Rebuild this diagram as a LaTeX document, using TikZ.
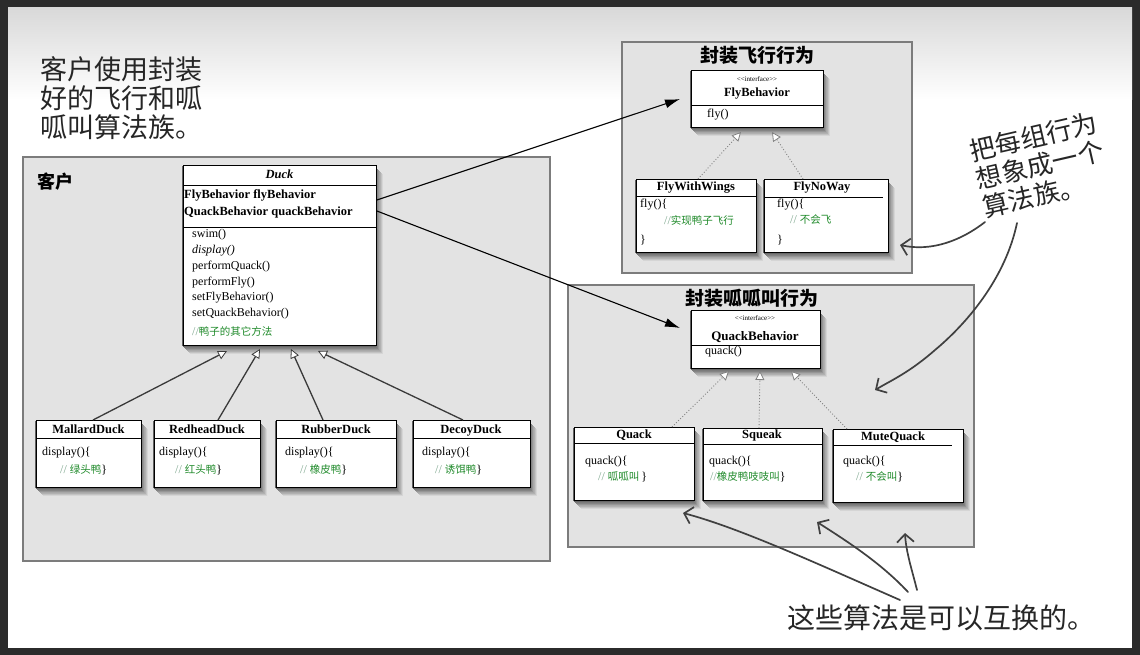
\documentclass[tikz,border=0pt]{standalone}
\usepackage{fontspec}
\setmainfont{Liberation Serif}
\newfontfamily\cjk{Noto Sans CJK SC}
\usetikzlibrary{arrows.meta}
\definecolor{framedark}{HTML}{2B2B2B}
\definecolor{panelfill}{HTML}{E3E3E3}
\definecolor{panelline}{HTML}{7C7C7C}
\definecolor{cgreen}{HTML}{1F8A2A}
\definecolor{cslash}{HTML}{7FA88F}
\definecolor{handcol}{HTML}{404040}
\definecolor{inhcol}{HTML}{3A3A3A}
\newcommand{\cmtz}[1]{{\color{cgreen}\cjk\fontsize{10.5}{12}\selectfont #1}}
\newcommand{\slz}{{\color{cslash}/\kern0pt/}}
\newcommand{\ifc}{<\kern0pt<interface>\kern0pt>}
\begin{document}
\begin{tikzpicture}[x=1pt,y=-1pt,
 panel/.style={draw=panelline,line width=2.2pt,fill=panelfill,anchor=north west,inner sep=0pt},
 umlbox/.style={draw=black,line width=0.9pt,fill=white,anchor=north west,inner sep=0pt},
 div/.style={draw=black,line width=0.9pt},
 ttl/.style={inner sep=0pt,anchor=base,font=\bfseries\fontsize{12.5}{14}\selectfont},
 tx/.style={anchor=west,inner sep=0pt,font=\fontsize{12}{14}\selectfont},
 tiny/.style={inner sep=0pt,font=\fontsize{7}{8}\selectfont},
 inh/.style={draw=inhcol,line width=1.3pt,-{Triangle[length=9pt,width=9pt,fill=white,line width=0.8pt]}},
 impl/.style={draw=gray,dotted,line width=0.9pt,-{Triangle[length=9pt,width=9pt,fill=white,line width=0.8pt]}},
 assoc/.style={draw=black,line width=1.1pt,-{Latex[length=15pt,width=9pt]}},
 handarrow/.style={draw=handcol,line width=1.7pt,line cap=round,line join=round,-{Straight Barb[length=8pt,width=17pt,line width=1.7pt]}},
 bigtext/.style={inner sep=0pt,font=\cjk\fontsize{27}{29}\selectfont,text=black!85},
 grouptitle/.style={inner sep=0pt,font=\cjk\bfseries\fontsize{19}{21}\selectfont}
]
% background and frame
\fill[framedark] (0,0) rectangle (1140,655);
\fill[white] (8,8) rectangle (1132,648);
\shade[top color=black!15,bottom color=white] (8,8) rectangle (1132,100);
\useasboundingbox (0,0) rectangle (1140,655);

% panels
\node[panel,minimum width=527pt,minimum height=404pt] (clientpanel) at (22,156) {};
\node[panel,minimum width=290pt,minimum height=231pt] (flypanel) at (621,41) {};
\node[panel,minimum width=406pt,minimum height=262pt] (quackpanel) at (567,284) {};

% soft shadows of the class boxes (many thin grey steps, outer light to inner dark)
\foreach \bx/\by/\bw/\bh in {183/165/193/180, 36/420/105/67, 154/420/106/67, 276/420/120/67,
  413/420/117/67, 691/70/132/57, 636/179/120/73, 764/179/124/73, 691/310/129/58,
  574/427/120/73, 703/428/119/72, 833/429/130/73} {
  \foreach \i in {0,...,13} {
    \pgfmathsetmacro\d{9-0.6*\i}
    \pgfmathsetmacro\g{6+4*\i}
    \fill[black!\g!panelfill] (\bx+\d-2,\by+\d) rectangle ++(\bw,\bh);
  }
}

\node[grouptitle,font=\cjk\bfseries\fontsize{18}{20}\selectfont] (clientlbl) at (55,182) {客户};
\node[grouptitle] (flylbl) at (757,55) {封装飞行行为};
\node[grouptitle] (quacklbl) at (752,298) {封装呱呱叫行为};

% notes
\node[bigtext,align=left,anchor=north west] (clientnote) at (40,56) {客户使用封装\\好的飞行和呱\\呱叫算法族。};
\node[bigtext,align=left,rotate=13,font=\cjk\fontsize{26}{29}\selectfont] (famnote) at (1040,165) {把每组行为\\想象成一个\\算法族。};
\node[bigtext,font=\cjk\fontsize{28}{30}\selectfont] (swapnote) at (941,618) {这些算法是可以互换的。};

% Duck
\node[umlbox,minimum width=193pt,minimum height=180pt] (duck) at (183,165) {};
\draw[div] (duck.west |- 0,185) -- (duck.east |- 0,185);
\draw[div] (duck.west |- 0,227) -- (duck.east |- 0,227);
\node[ttl,font=\bfseries\itshape\fontsize{12.5}{14}\selectfont] (duckt) at (279.5,179) {Duck};
\node[tx,font=\bfseries\fontsize{12.5}{14}\selectfont] (duckf1) at (184,195) {FlyBehavior flyBehavior};
\node[tx,font=\bfseries\fontsize{12.5}{14}\selectfont] (duckf2) at (184,212) {QuackBehavior quackBehavior};
\node[tx] (duckm1) at (192,235) {swim()};
\node[tx,font=\itshape\fontsize{12}{14}\selectfont] (duckm2) at (192,251) {display()};
\node[tx] (duckm3) at (192,267) {performQuack()};
\node[tx] (duckm4) at (192,283) {performFly()};
\node[tx] (duckm5) at (192,298) {setFlyBehavior()};
\node[tx] (duckm6) at (192,314) {setQuackBehavior()};
\node[tx] (duckm7) at (192,331) {\slz\cmtz{鸭子的其它方法}};

% Duck subclasses
\node[umlbox,minimum width=105pt,minimum height=67pt] (mallard) at (36,420) {};
\draw[div] (mallard.west |- 0,438) -- (mallard.east |- 0,438);
\node[ttl] (mallardt) at (88.5,433) {MallardDuck};
\node[tx] (mallardb1) at (42,453) {display()\{};
\node[tx] (mallardb2) at (60,470) {\slz\ \cmtz{绿头鸭}\}};

\node[umlbox,minimum width=106pt,minimum height=67pt] (redhead) at (154,420) {};
\draw[div] (redhead.west |- 0,438) -- (redhead.east |- 0,438);
\node[ttl] (redheadt) at (207,433) {RedheadDuck};
\node[tx] (redheadb1) at (159,453) {display()\{};
\node[tx] (redheadb2) at (175,470) {\slz\ \cmtz{红头鸭}\}};

\node[umlbox,minimum width=120pt,minimum height=67pt] (rubber) at (276,420) {};
\draw[div] (rubber.west |- 0,438) -- (rubber.east |- 0,438);
\node[ttl] (rubbert) at (336,433) {RubberDuck};
\node[tx] (rubberb1) at (285,453) {display()\{};
\node[tx] (rubberb2) at (300,470) {\slz\ \cmtz{橡皮鸭}\}};

\node[umlbox,minimum width=117pt,minimum height=67pt] (decoy) at (413,420) {};
\draw[div] (decoy.west |- 0,438) -- (decoy.east |- 0,438);
\node[ttl] (decoyt) at (471,433) {DecoyDuck};
\node[tx] (decoyb1) at (422,453) {display()\{};
\node[tx] (decoyb2) at (435,470) {\slz\ \cmtz{诱饵鸭}\}};

\coordinate (dk1) at (227,351);
\coordinate (dk2) at (260,349);
\coordinate (dk3) at (291,349);
\coordinate (dk4) at (318,351);
\draw[inh] (mallard.north -| 93,0) -- (dk1);
\draw[inh] (redhead.north -| 218,0) -- (dk2);
\draw[inh] (rubber.north -| 323,0) -- (dk3);
\draw[inh] (decoy.north -| 463,0) -- (dk4);

% FlyBehavior
\node[umlbox,minimum width=132pt,minimum height=57pt] (flyif) at (691,70) {};
\draw[div] (flyif.west |- 0,105) -- (flyif.east |- 0,105);
\node[tiny] (flyifst) at (757,79) {\ifc};
\node[ttl] (flyift) at (757,97) {FlyBehavior};
\node[tx] (flyifm) at (707,115) {fly()};

\node[umlbox,minimum width=120pt,minimum height=73pt] (fww) at (636,179) {};
\draw[div] (fww.west |- 0,196) -- (fww.east |- 0,196);
\node[ttl] (fwwt) at (696,191) {FlyWithWings};
\node[tx] (fwwb1) at (640,205) {fly()\{};
\node[tx] (fwwb2) at (664,220) {\slz\cmtz{实现鸭子飞行}};
\node[tx] (fwwb3) at (640,240) {\}};

\node[umlbox,minimum width=124pt,minimum height=73pt] (fnw) at (764,179) {};
\draw[div] (fnw.west |- 0,197) -- (883,197);
\node[ttl] (fnwt) at (822,191) {FlyNoWay};
\node[tx] (fnwb1) at (777,205) {fly()\{};
\node[tx] (fnwb2) at (790,220) {\slz\ \cmtz{不会飞}};
\node[tx] (fnwb3) at (777,240) {\}};

\coordinate (ft1) at (741,132);
\coordinate (ft2) at (772,132);
\draw[impl] (fww.north -| 698,0) -- (ft1);
\draw[impl] (fnw.north -| 803,0) -- (ft2);

% QuackBehavior
\node[umlbox,minimum width=129pt,minimum height=58pt] (quackif) at (691,310) {};
\draw[div] (quackif.west |- 0,345) -- (quackif.east |- 0,345);
\node[tiny] (quackifst) at (755,318) {\ifc};
\node[ttl,font=\bfseries\fontsize{13}{15}\selectfont] (quackift) at (755,340) {QuackBehavior};
\node[tx] (quackifm) at (705,352) {quack()};

\node[umlbox,minimum width=120pt,minimum height=73pt] (quack) at (574,427) {};
\draw[div] (quack.west |- 0,443) -- (quack.east |- 0,443);
\node[ttl] (quackt) at (634,438) {Quack};
\node[tx] (quackb1) at (585,462) {quack()\{};
\node[tx] (quackb2) at (598,477) {\slz\ \cmtz{呱呱叫}\,\}};

\node[umlbox,minimum width=119pt,minimum height=72pt] (squeak) at (703,428) {};
\draw[div] (squeak.west |- 0,444) -- (squeak.east |- 0,444);
\node[ttl] (squeakt) at (762,438) {Squeak};
\node[tx] (squeakb1) at (709,462) {quack()\{};
\node[tx] (squeakb2) at (710,477) {\slz\cmtz{橡皮鸭吱吱叫}\}};

\node[umlbox,minimum width=130pt,minimum height=73pt] (mute) at (833,429) {};
\draw[div] (mute.west |- 0,445) -- (952,445);
\node[ttl] (mutet) at (893,440) {MuteQuack};
\node[tx] (muteb1) at (843,462) {quack()\{};
\node[tx] (muteb2) at (856,477) {\slz\ \cmtz{不会叫}\}};

\coordinate (qt1) at (729,371);
\coordinate (qt2) at (760,371);
\coordinate (qt3) at (791,371);
\draw[impl] (quack.north -| 672,0) -- (qt1);
\draw[impl] (squeak.north -| 759,0) -- (qt2);
\draw[impl] (mute.north -| 847,0) -- (qt3);

% associations
\coordinate (flytip) at (680,99);
\coordinate (quacktip) at (680,328);
\draw[assoc] (duck.east |- 0,200) -- (flytip);
\draw[assoc] (duck.east |- 0,211) -- (quacktip);

% hand-drawn arrows
\coordinate (ha1s) at (985,222);
\coordinate (ha1e) at (900,245);
\draw[handarrow] (ha1s) .. controls (962,240) and (932,252) .. (ha1e);
\coordinate (ha2s) at (1017,223);
\coordinate (ha2m) at (935,350);
\coordinate (ha2e) at (875,390);
\draw[handarrow] (ha2s) .. controls (1005,280) and (965,325) .. (ha2m) .. controls (910,372) and (892,380) .. (ha2e);
\coordinate (hb1s) at (900,600);
\coordinate (hb1e) at (683,513);
\draw[handarrow] (hb1s) .. controls (820,565) and (740,528) .. (hb1e);
\coordinate (hb2s) at (908,592);
\coordinate (hb2e) at (817,522);
\draw[handarrow] (hb2s) .. controls (880,562) and (845,540) .. (hb2e);
\coordinate (hb3s) at (917,590);
\coordinate (hb3e) at (905,533);
\draw[handarrow] (hb3s) .. controls (912,570) and (906,552) .. (hb3e);
\end{tikzpicture}
\end{document}
